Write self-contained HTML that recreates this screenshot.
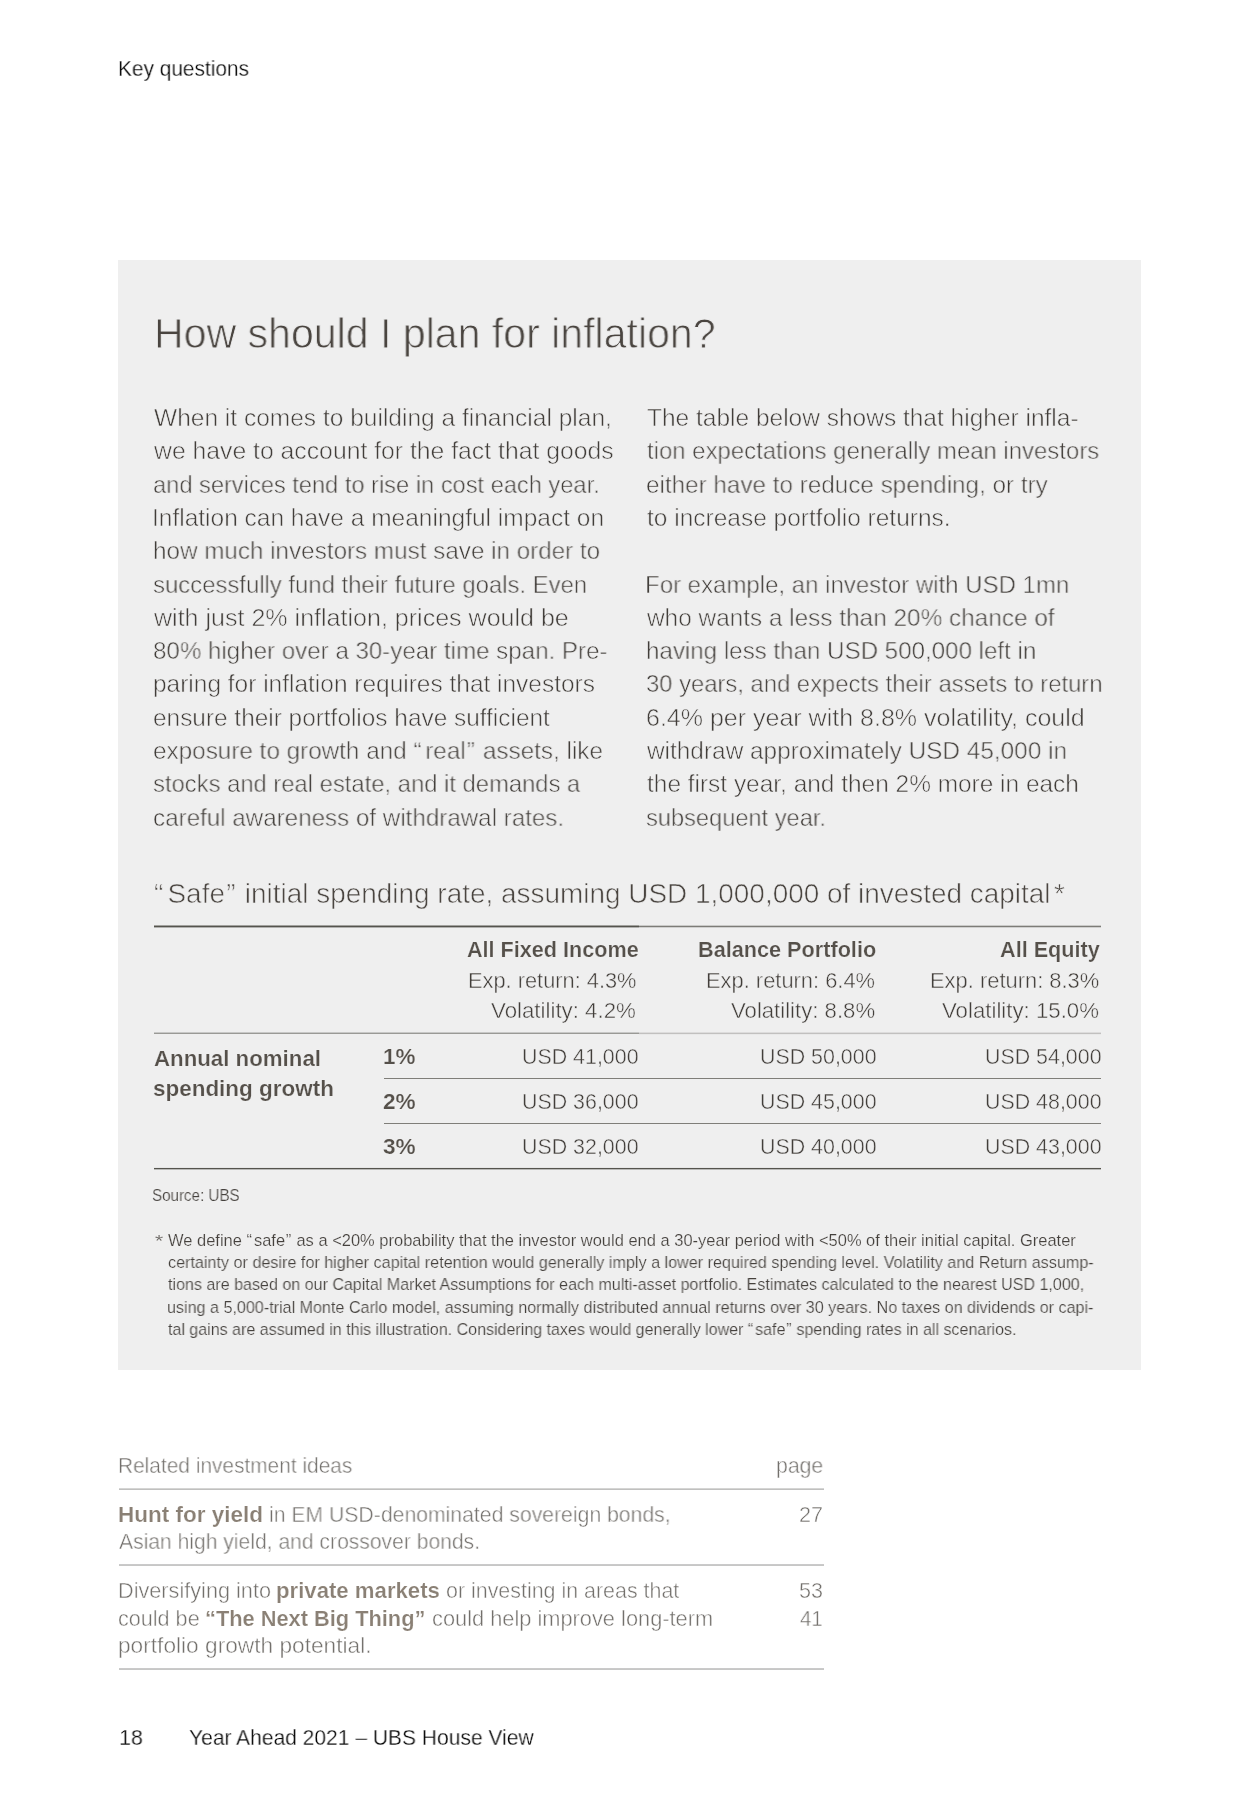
<!DOCTYPE html>
<html lang="en"><head><meta charset="utf-8"><title>Key questions – How should I plan for inflation?</title>
<style>
html,body{margin:0;padding:0;background:#fff;}
body{width:1259px;height:1803px;position:relative;overflow:hidden;font-family:"Liberation Sans", sans-serif;}
.box{position:absolute;left:118.3px;top:259.6px;width:1023.1px;height:1110.4px;background:#efefef;}
.t{position:absolute;white-space:pre;line-height:1;transform-origin:0 0;margin:0;padding:0;font-weight:400;will-change:transform;}
.t b{font-weight:700;color:#8a8075;-webkit-text-stroke:0;}
.b{font-weight:700;}
.r{position:absolute;}
</style></head><body>
<div class="box"></div>
<div class="r" style="left:154px;top:925px;width:485px;height:1px;background:#a2a29e"></div>
<div class="r" style="left:154px;top:926px;width:485px;height:1px;background:#55544e"></div>
<div class="r" style="left:154px;top:927px;width:485px;height:1px;background:#b1b1af"></div>
<div class="r" style="left:639px;top:925px;width:462px;height:1px;background:#cacac8"></div>
<div class="r" style="left:639px;top:926px;width:462px;height:1px;background:#7d7c78"></div>
<div class="r" style="left:639px;top:927px;width:462px;height:1px;background:#d0d0cf"></div>
<div class="r" style="left:154px;top:1032px;width:485px;height:1px;background:#c8c8c7"></div>
<div class="r" style="left:154px;top:1033px;width:485px;height:1px;background:#9a9a96"></div>
<div class="r" style="left:639px;top:1032px;width:462px;height:1px;background:#dddcdc"></div>
<div class="r" style="left:639px;top:1033px;width:462px;height:1px;background:#c1c0bf"></div>
<div class="r" style="left:639px;top:1034px;width:462px;height:1px;background:#e9e9e9"></div>
<div class="r" style="left:384px;top:1078px;width:717px;height:1px;background:#7f7e79"></div>
<div class="r" style="left:384px;top:1123px;width:717px;height:1px;background:#7f7e79"></div>
<div class="r" style="left:154px;top:1167px;width:947px;height:1px;background:#e7e7e7"></div>
<div class="r" style="left:154px;top:1168px;width:947px;height:1px;background:#55544e"></div>
<div class="r" style="left:154px;top:1169px;width:947px;height:1px;background:#b9b9b7"></div>
<div class="r" style="left:119px;top:1488px;width:705px;height:1px;background:#d5d5d4"></div>
<div class="r" style="left:119px;top:1489px;width:705px;height:1px;background:#c0c0bf"></div>
<div class="r" style="left:119px;top:1564px;width:705px;height:1px;background:#cacaca"></div>
<div class="r" style="left:119px;top:1565px;width:705px;height:1px;background:#c7c7c6"></div>
<div class="r" style="left:119px;top:1668px;width:705px;height:1px;background:#cacaca"></div>
<div class="r" style="left:119px;top:1669px;width:705px;height:1px;background:#c7c7c6"></div>
<div class="t" style="left:117.98px;top:58.75px;font-size:21.4px;color:#050505;-webkit-text-stroke:0.30px #fff;transform:scaleX(0.9744)">Key questions</div>
<div class="t" style="left:118.63px;top:1727.00px;font-size:22.0px;color:#050505;-webkit-text-stroke:0.30px #fff;transform:scaleX(0.9739)">18</div>
<div class="t" style="left:189.24px;top:1727.00px;font-size:22.0px;color:#050505;-webkit-text-stroke:0.30px #fff;transform:scaleX(0.9550)">Year Ahead 2021 – UBS House View</div>
<div class="t" style="left:153.64px;top:312.90px;font-size:41.6px;color:#4a4540;-webkit-text-stroke:0.85px #efefef;transform:scaleX(0.9872)">How should I plan for inflation?</div>
<div class="t" style="left:153.93px;top:406.15px;font-size:24.4px;color:#423e3a;-webkit-text-stroke:0.55px #efefef;transform:scaleX(1.0050)">When it comes to building a financial plan,</div>
<div class="t" style="left:153.93px;top:439.43px;font-size:24.4px;color:#423e3a;-webkit-text-stroke:0.55px #efefef;transform:scaleX(1.0149)">we have to account for the fact that goods</div>
<div class="t" style="left:153.36px;top:472.71px;font-size:24.4px;color:#423e3a;-webkit-text-stroke:0.55px #efefef;transform:scaleX(0.9691)">and services tend to rise in cost each year.</div>
<div class="t" style="left:152.32px;top:505.99px;font-size:24.4px;color:#423e3a;-webkit-text-stroke:0.55px #efefef;transform:scaleX(1.0041)">Inflation can have a meaningful impact on</div>
<div class="t" style="left:153.33px;top:539.27px;font-size:24.4px;color:#423e3a;-webkit-text-stroke:0.55px #efefef;transform:scaleX(0.9935)">how much investors must save in order to</div>
<div class="t" style="left:153.35px;top:572.55px;font-size:24.4px;color:#423e3a;-webkit-text-stroke:0.55px #efefef;transform:scaleX(0.9792)">successfully fund their future goals. Even</div>
<div class="t" style="left:153.93px;top:605.83px;font-size:24.4px;color:#423e3a;-webkit-text-stroke:0.55px #efefef;transform:scaleX(1.0267)">with just 2% inflation, prices would be</div>
<div class="t" style="left:153.34px;top:639.11px;font-size:24.4px;color:#423e3a;-webkit-text-stroke:0.55px #efefef;transform:scaleX(0.9888)">80% higher over a 30-year time span. Pre-</div>
<div class="t" style="left:153.32px;top:672.39px;font-size:24.4px;color:#423e3a;-webkit-text-stroke:0.55px #efefef;transform:scaleX(1.0031)">paring for inflation requires that investors</div>
<div class="t" style="left:153.33px;top:705.67px;font-size:24.4px;color:#423e3a;-webkit-text-stroke:0.55px #efefef;transform:scaleX(0.9996)">ensure their portfolios have sufficient</div>
<div class="t" style="left:153.33px;top:738.95px;font-size:24.4px;color:#423e3a;-webkit-text-stroke:0.55px #efefef;transform:scaleX(0.9952)">exposure to growth and “<span style="margin-left:0.15em">real</span><span style="margin-left:0.05em">”</span><span style="margin-left:0.05em"> </span>assets, like</div>
<div class="t" style="left:153.35px;top:772.23px;font-size:24.4px;color:#423e3a;-webkit-text-stroke:0.55px #efefef;transform:scaleX(0.9756)">stocks and real estate, and it demands a</div>
<div class="t" style="left:153.33px;top:805.51px;font-size:24.4px;color:#423e3a;-webkit-text-stroke:0.55px #efefef;transform:scaleX(0.9911)">careful awareness of withdrawal rates.</div>
<div class="t" style="left:646.93px;top:406.15px;font-size:24.4px;color:#423e3a;-webkit-text-stroke:0.55px #efefef;transform:scaleX(1.0041)">The table below shows that higher infla-</div>
<div class="t" style="left:646.93px;top:439.43px;font-size:24.4px;color:#423e3a;-webkit-text-stroke:0.55px #efefef;transform:scaleX(0.9810)">tion expectations generally mean investors</div>
<div class="t" style="left:645.93px;top:472.71px;font-size:24.4px;color:#423e3a;-webkit-text-stroke:0.55px #efefef;transform:scaleX(0.9944)">either have to reduce spending, or try</div>
<div class="t" style="left:646.93px;top:505.99px;font-size:24.4px;color:#423e3a;-webkit-text-stroke:0.55px #efefef;transform:scaleX(1.0042)">to increase portfolio returns.</div>
<div class="t" style="left:644.96px;top:572.55px;font-size:24.4px;color:#423e3a;-webkit-text-stroke:0.55px #efefef;transform:scaleX(0.9842)">For example, an investor with USD 1mn</div>
<div class="t" style="left:646.93px;top:605.83px;font-size:24.4px;color:#423e3a;-webkit-text-stroke:0.55px #efefef;transform:scaleX(0.9988)">who wants a less than 20% chance of</div>
<div class="t" style="left:645.94px;top:639.11px;font-size:24.4px;color:#423e3a;-webkit-text-stroke:0.55px #efefef;transform:scaleX(0.9892)">having less than USD 500,000 left in</div>
<div class="t" style="left:645.95px;top:672.39px;font-size:24.4px;color:#423e3a;-webkit-text-stroke:0.55px #efefef;transform:scaleX(0.9759)">30 years, and expects their assets to return</div>
<div class="t" style="left:645.90px;top:705.67px;font-size:24.4px;color:#423e3a;-webkit-text-stroke:0.55px #efefef;transform:scaleX(1.0252)">6.4% per year with 8.8% volatility, could</div>
<div class="t" style="left:646.93px;top:738.95px;font-size:24.4px;color:#423e3a;-webkit-text-stroke:0.55px #efefef;transform:scaleX(0.9994)">withdraw approximately USD 45,000 in</div>
<div class="t" style="left:646.93px;top:772.23px;font-size:24.4px;color:#423e3a;-webkit-text-stroke:0.55px #efefef;transform:scaleX(1.0017)">the first year, and then 2% more in each</div>
<div class="t" style="left:645.96px;top:805.51px;font-size:24.4px;color:#423e3a;-webkit-text-stroke:0.55px #efefef;transform:scaleX(0.9686)">subsequent year.</div>
<div class="t" style="left:154.27px;top:880.00px;font-size:27.1px;color:#4a4540;-webkit-text-stroke:0.60px #efefef;transform:scaleX(1.0308)">“<span style="margin-left:0.15em">Safe</span><span style="margin-left:0.05em">”</span><span style="margin-left:0.05em"> </span>initial spending rate, assuming USD 1,000,000 of invested capital<span style="margin-left:0.12em">*</span></div>
<div class="t b" style="left:466.90px;top:940.20px;font-size:21.4px;color:#55504a;-webkit-text-stroke:0.20px #efefef;transform:scaleX(1.0101)">All Fixed Income</div>
<div class="t" style="left:467.87px;top:970.70px;font-size:21.4px;color:#423e3a;-webkit-text-stroke:0.42px #efefef;transform:scaleX(1.0196)">Exp. return: 4.3%</div>
<div class="t" style="left:491.39px;top:1001.40px;font-size:21.4px;color:#423e3a;-webkit-text-stroke:0.42px #efefef;transform:scaleX(1.0412)">Volatility: 4.2%</div>
<div class="t b" style="left:698.39px;top:940.20px;font-size:21.4px;color:#55504a;-webkit-text-stroke:0.20px #efefef;transform:scaleX(1.0126)">Balance Portfolio</div>
<div class="t" style="left:705.87px;top:970.70px;font-size:21.4px;color:#423e3a;-webkit-text-stroke:0.42px #efefef;transform:scaleX(1.0227)">Exp. return: 6.4%</div>
<div class="t" style="left:730.64px;top:1001.40px;font-size:21.4px;color:#423e3a;-webkit-text-stroke:0.42px #efefef;transform:scaleX(1.0358)">Volatility: 8.8%</div>
<div class="t b" style="left:999.90px;top:940.20px;font-size:21.4px;color:#55504a;-webkit-text-stroke:0.20px #efefef;transform:scaleX(1.0121)">All Equity</div>
<div class="t" style="left:930.37px;top:970.70px;font-size:21.4px;color:#423e3a;-webkit-text-stroke:0.42px #efefef;transform:scaleX(1.0242)">Exp. return: 8.3%</div>
<div class="t" style="left:942.39px;top:1001.40px;font-size:21.4px;color:#423e3a;-webkit-text-stroke:0.42px #efefef;transform:scaleX(1.0395)">Volatility: 15.0%</div>
<div class="t b" style="left:153.65px;top:1048.60px;font-size:21.4px;color:#55504a;-webkit-text-stroke:0.20px #efefef;transform:scaleX(1.0406)">Annual nominal</div>
<div class="t b" style="left:152.60px;top:1078.90px;font-size:21.4px;color:#55504a;-webkit-text-stroke:0.20px #efefef;transform:scaleX(1.0497)">spending growth</div>
<div class="t b" style="left:383.35px;top:1046.50px;font-size:21.4px;color:#55504a;-webkit-text-stroke:0.20px #efefef;transform:scaleX(1.0483)">1%</div>
<div class="t" style="left:522.14px;top:1046.50px;font-size:21.4px;color:#423e3a;-webkit-text-stroke:0.42px #efefef;transform:scaleX(0.9997)">USD 41,000</div>
<div class="t" style="left:760.39px;top:1046.50px;font-size:21.4px;color:#423e3a;-webkit-text-stroke:0.42px #efefef;transform:scaleX(0.9976)">USD 50,000</div>
<div class="t" style="left:984.64px;top:1046.50px;font-size:21.4px;color:#423e3a;-webkit-text-stroke:0.42px #efefef;transform:scaleX(0.9997)">USD 54,000</div>
<div class="t b" style="left:383.10px;top:1091.50px;font-size:21.4px;color:#55504a;-webkit-text-stroke:0.20px #efefef;transform:scaleX(1.0565)">2%</div>
<div class="t" style="left:522.14px;top:1091.50px;font-size:21.4px;color:#423e3a;-webkit-text-stroke:0.42px #efefef;transform:scaleX(0.9997)">USD 36,000</div>
<div class="t" style="left:760.39px;top:1091.50px;font-size:21.4px;color:#423e3a;-webkit-text-stroke:0.42px #efefef;transform:scaleX(0.9976)">USD 45,000</div>
<div class="t" style="left:984.64px;top:1091.50px;font-size:21.4px;color:#423e3a;-webkit-text-stroke:0.42px #efefef;transform:scaleX(0.9997)">USD 48,000</div>
<div class="t b" style="left:383.10px;top:1137.00px;font-size:21.4px;color:#55504a;-webkit-text-stroke:0.20px #efefef;transform:scaleX(1.0565)">3%</div>
<div class="t" style="left:522.14px;top:1137.00px;font-size:21.4px;color:#423e3a;-webkit-text-stroke:0.42px #efefef;transform:scaleX(0.9997)">USD 32,000</div>
<div class="t" style="left:760.39px;top:1137.00px;font-size:21.4px;color:#423e3a;-webkit-text-stroke:0.42px #efefef;transform:scaleX(0.9976)">USD 40,000</div>
<div class="t" style="left:984.64px;top:1137.00px;font-size:21.4px;color:#423e3a;-webkit-text-stroke:0.42px #efefef;transform:scaleX(0.9997)">USD 43,000</div>
<div class="t" style="left:152.34px;top:1186.80px;font-size:16.4px;color:#45413d;-webkit-text-stroke:0.18px #efefef;transform:scaleX(0.9245)">Source: UBS</div>
<div class="t" style="left:154.60px;top:1232.50px;font-size:17.0px;color:#55514c;-webkit-text-stroke:0.15px #efefef;transform:scaleX(1.2333)">*</div>
<div class="t" style="left:167.81px;top:1231.90px;font-size:16.4px;color:#45413d;-webkit-text-stroke:0.18px #efefef;transform:scaleX(1.0052)">We define “<span style="margin-left:0.12em">safe</span><span style="margin-left:0.04em">”</span><span style="margin-left:0.04em"> </span>as a &lt;20% probability that the investor would end a 30-year period with &lt;50% of their initial capital. Greater</div>
<div class="t" style="left:167.81px;top:1254.18px;font-size:16.4px;color:#45413d;-webkit-text-stroke:0.18px #efefef;transform:scaleX(0.9855)">certainty or desire for higher capital retention would generally imply a lower required spending level. Volatility and Return assump-</div>
<div class="t" style="left:167.81px;top:1276.46px;font-size:16.4px;color:#45413d;-webkit-text-stroke:0.18px #efefef;transform:scaleX(0.9801)">tions are based on our Capital Market Assumptions for each multi-asset portfolio. Estimates calculated to the nearest USD 1,000,</div>
<div class="t" style="left:166.83px;top:1298.74px;font-size:16.4px;color:#45413d;-webkit-text-stroke:0.18px #efefef;transform:scaleX(0.9834)">using a 5,000-trial Monte Carlo model, assuming normally distributed annual returns over 30 years. No taxes on dividends or capi-</div>
<div class="t" style="left:167.81px;top:1321.02px;font-size:16.4px;color:#45413d;-webkit-text-stroke:0.18px #efefef;transform:scaleX(0.9777)">tal gains are assumed in this illustration. Considering taxes would generally lower “<span style="margin-left:0.12em">safe</span><span style="margin-left:0.04em">”</span><span style="margin-left:0.04em"> </span>spending rates in all scenarios.</div>
<div class="t" style="left:117.77px;top:1456.30px;font-size:21.4px;color:#73706c;-webkit-text-stroke:0.44px #fff;transform:scaleX(0.9757)">Related investment ideas</div>
<div class="t" style="left:776.46px;top:1456.30px;font-size:21.4px;color:#73706c;-webkit-text-stroke:0.44px #fff;transform:scaleX(0.9891)">page</div>
<div class="t b" style="left:117.97px;top:1503.70px;font-size:21.8px;color:#8a8075;-webkit-text-stroke:0.20px #fff;transform:scaleX(1.0324)">Hunt for yield</div>
<div class="t" style="left:269.36px;top:1504.70px;font-size:21.4px;color:#73706c;-webkit-text-stroke:0.44px #fff;transform:scaleX(0.9906)">in EM USD-denominated sovereign bonds,</div>
<div class="t" style="left:118.75px;top:1532.30px;font-size:21.4px;color:#73706c;-webkit-text-stroke:0.44px #fff;transform:scaleX(0.9858)">Asian high yield, and crossover bonds.</div>
<div class="t" style="left:798.74px;top:1504.70px;font-size:21.4px;color:#73706c;-webkit-text-stroke:0.44px #fff;transform:scaleX(1.0091)">27</div>
<div class="t" style="left:118.24px;top:1580.70px;font-size:21.4px;color:#73706c;-webkit-text-stroke:0.44px #fff;transform:scaleX(1.0134)">Diversifying into</div>
<div class="t b" style="left:275.88px;top:1579.70px;font-size:21.8px;color:#8a8075;-webkit-text-stroke:0.20px #fff;transform:scaleX(1.0169)">private markets</div>
<div class="t" style="left:445.75px;top:1580.70px;font-size:21.4px;color:#73706c;-webkit-text-stroke:0.44px #fff;transform:scaleX(1.0011)">or investing in areas that</div>
<div class="t" style="left:118.24px;top:1608.50px;font-size:21.4px;color:#73706c;-webkit-text-stroke:0.44px #fff;transform:scaleX(1.0095)">could be</div>
<div class="t b" style="left:205.15px;top:1607.50px;font-size:21.8px;color:#8a8075;-webkit-text-stroke:0.20px #fff;transform:scaleX(0.9986)">“The Next Big Thing”</div>
<div class="t" style="left:431.73px;top:1608.50px;font-size:21.4px;color:#73706c;-webkit-text-stroke:0.44px #fff;transform:scaleX(1.0192)">could help improve long-term</div>
<div class="t" style="left:118.19px;top:1635.90px;font-size:21.4px;color:#73706c;-webkit-text-stroke:0.44px #fff;transform:scaleX(1.0606)">portfolio growth potential.</div>
<div class="t" style="left:798.74px;top:1580.70px;font-size:21.4px;color:#73706c;-webkit-text-stroke:0.44px #fff;transform:scaleX(1.0091)">53</div>
<div class="t" style="left:799.75px;top:1608.50px;font-size:21.4px;color:#73706c;-webkit-text-stroke:0.44px #fff;transform:scaleX(0.9478)">41</div>
</body></html>
